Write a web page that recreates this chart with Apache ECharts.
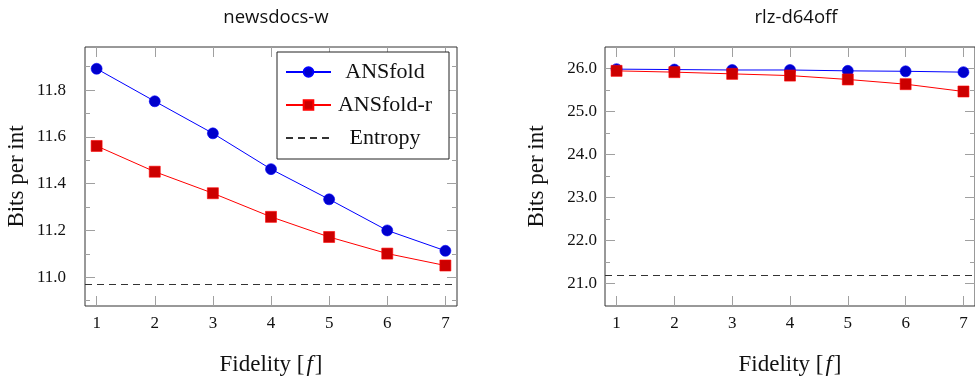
<!DOCTYPE html>
<html>
<head>
<meta charset="utf-8">
<script src="https://cdn.jsdelivr.net/npm/echarts@6/dist/echarts.min.js"></script>
<style>
  html, body { margin: 0; padding: 0; background: #fff; }
  #chart { width: 975px; height: 382px; }
</style>
</head>
<body>
<div id="chart"></div>
<script>
const fidelity = [1, 2, 3, 4, 5, 6, 7]

const newsAns = [11.891, 11.752, 11.615, 11.462, 11.333, 11.2, 11.113]
const newsAnsR = [11.561, 11.451, 11.359, 11.258, 11.172, 11.101, 11.05]
const newsEntropy = 10.971
const newsYTicks = [11.0, 11.2, 11.4, 11.6, 11.8]
const newsYMinor = [10.9, 11.1, 11.3, 11.5, 11.7, 11.9]

const rlzAns = [25.99, 25.98, 25.97, 25.97, 25.95, 25.94, 25.92]
const rlzAnsR = [25.95, 25.92, 25.88, 25.84, 25.75, 25.64, 25.47]
const rlzEntropy = 21.19
const rlzYTicks = [21, 22, 23, 24, 25, 26]
const rlzYMinor = [21.5, 22.5, 23.5, 24.5, 25.5]

const serif = 'Liberation Serif'
const tickColor = '#a0a0a0'

const panels = [
  { title: 'newsdocs-w', left: 85, ans: newsAns, ansR: newsAnsR, entropy: newsEntropy,
    yMin: 10.877, yMax: 11.984, ticks: newsYTicks, minor: newsYMinor, labelMargin: 19 },
  { title: 'rlz-d64off', left: 605, ans: rlzAns, ansR: rlzAnsR, entropy: rlzEntropy,
    yMin: 20.48, yMax: 26.505, ticks: rlzYTicks, minor: rlzYMinor, labelMargin: 8 },
]

const pair = (xs, ys) => xs.map((x, i) => [x, ys[i]])

const grid = [], xAxis = [], yAxis = [], series = [], title = []

panels.forEach((p, gi) => {
  grid.push({ left: p.left, top: 47, width: 372, height: 259, show: true,
    borderColor: '#333', borderWidth: 1, backgroundColor: 'transparent' })

  title.push({ text: p.title, left: p.left + 186, top: 3, textAlign: 'center',
    textStyle: { fontFamily: 'Open Sans', fontWeight: 'normal', fontSize: 18.5, color: '#111' } })

  const xBase = { type: 'value', gridIndex: gi, min: 0.8, max: 7.2,
    splitLine: { show: false }, axisLine: { show: false } }
  xAxis.push(Object.assign({}, xBase, {
    position: 'bottom',
    name: 'Fidelity [{i|f}]', nameLocation: 'middle', nameGap: 47,
    nameTextStyle: { fontFamily: serif, fontSize: 23, color: '#111',
      rich: { i: { fontFamily: serif, fontStyle: 'italic', fontSize: 23, padding: [0, 2, 0, 2] } } },
    axisTick: { inside: true, length: 10, lineStyle: { color: tickColor }, customValues: fidelity },
    axisLabel: { customValues: fidelity, margin: 9, fontFamily: serif, fontSize: 17, color: '#111' },
  }))
  xAxis.push(Object.assign({}, xBase, {
    position: 'top',
    axisTick: { inside: true, length: 10, lineStyle: { color: tickColor }, customValues: fidelity },
    axisLabel: { show: false },
  }))

  const yBase = { type: 'value', gridIndex: gi, min: p.yMin, max: p.yMax,
    splitLine: { show: false }, axisLine: { show: false } }
  yAxis.push(Object.assign({}, yBase, {
    position: 'left',
    name: 'Bits per int', nameLocation: 'middle', nameGap: 57,
    nameTextStyle: { fontFamily: serif, fontSize: 23, color: '#111' },
    axisTick: { inside: true, length: 10, lineStyle: { color: tickColor }, customValues: p.ticks },
    axisLabel: { customValues: p.ticks, margin: p.labelMargin, fontFamily: serif, fontSize: 17,
      color: '#111', formatter: v => v.toFixed(1) },
  }))
  yAxis.push(Object.assign({}, yBase, {
    position: 'left',
    axisTick: { inside: true, length: 5, lineStyle: { color: tickColor }, customValues: p.minor },
    axisLabel: { show: false },
  }))
  yAxis.push(Object.assign({}, yBase, {
    position: 'right',
    axisTick: { inside: true, length: 10, lineStyle: { color: tickColor }, customValues: p.ticks },
    axisLabel: { show: false },
  }))
  yAxis.push(Object.assign({}, yBase, {
    position: 'right',
    axisTick: { inside: true, length: 5, lineStyle: { color: tickColor }, customValues: p.minor },
    axisLabel: { show: false },
  }))

  const xi = gi * 2, yi = gi * 4
  series.push({
    name: 'ANSfold', type: 'line', xAxisIndex: xi, yAxisIndex: yi,
    data: pair(fidelity, p.ans), symbol: 'circle', symbolSize: 11,
    lineStyle: { color: '#0000ff', width: 1 },
    itemStyle: { color: '#0000cc', borderColor: '#0000ff', borderWidth: 0.6 },
  })
  series.push({
    name: 'ANSfold-r', type: 'line', xAxisIndex: xi, yAxisIndex: yi,
    data: pair(fidelity, p.ansR), symbol: 'rect', symbolSize: 11,
    lineStyle: { color: '#ff0000', width: 1 },
    itemStyle: { color: '#cc0000', borderColor: '#ff0000', borderWidth: 0.6 },
  })
  series.push({
    name: 'Entropy', type: 'line', xAxisIndex: xi, yAxisIndex: yi,
    data: [], symbol: 'none',
    lineStyle: { color: '#333', width: 1, type: [7, 5] },
    itemStyle: { color: '#333' },
    markLine: {
      silent: true, symbol: ['none', 'none'], label: { show: false },
      lineStyle: { color: '#333', width: 1, type: [7, 5] },
      data: [{ yAxis: p.entropy }],
    },
  })
})

const chart = echarts.init(document.getElementById('chart'), null, { renderer: 'canvas' })
chart.setOption({
  animation: false,
  backgroundColor: '#fff',
  title,
  grid,
  xAxis,
  yAxis,
  series,
  legend: {
    data: ['ANSfold', 'ANSfold-r', { name: 'Entropy', itemStyle: { opacity: 0 } }],
    orient: 'vertical', left: 277, top: 52,
    padding: [9, 15, 10, 8], itemWidth: 45, itemHeight: 12, itemGap: 11,
    borderColor: '#222', borderWidth: 1, backgroundColor: '#fff',
    selectedMode: false,
    formatter: n => `{c|${n}}`,
    textStyle: {
      fontFamily: serif, fontSize: 22, color: '#111',
      rich: { c: { fontFamily: serif, fontSize: 22, width: 98, align: 'center', lineHeight: 22 } },
    },
  },
})
</script>
</body>
</html>
